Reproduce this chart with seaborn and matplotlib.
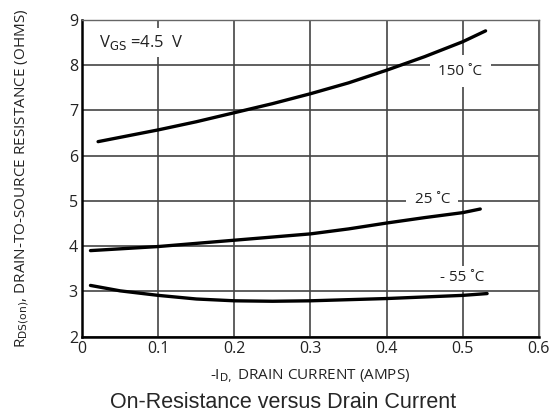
import matplotlib
matplotlib.use('Agg')
import matplotlib.pyplot as plt
import seaborn as sns
import pandas as pd

# drain current (A) and on-resistance (ohms)
i_150 = [0.021, 0.1, 0.15, 0.2, 0.25, 0.3, 0.35, 0.4, 0.45, 0.5, 0.530]
r_150 = [6.31, 6.57, 6.75, 6.95, 7.15, 7.37, 7.61, 7.89, 8.19, 8.52, 8.76]

i_25 = [0.011, 0.1, 0.2, 0.3, 0.35, 0.4, 0.45, 0.5, 0.523]
r_25 = [3.90, 3.99, 4.13, 4.27, 4.38, 4.51, 4.63, 4.74, 4.82]

i_m55 = [0.011, 0.05, 0.1, 0.15, 0.2, 0.25, 0.3, 0.4, 0.5, 0.532]
r_m55 = [3.13, 3.01, 2.91, 2.83, 2.79, 2.78, 2.79, 2.84, 2.91, 2.95]

x_ticks = [0, 0.1, 0.2, 0.3, 0.4, 0.5, 0.6]
x_labels = ['0', '0.1', '0.2', '0.3', '0.4', '0.5', '0.6']
y_ticks = [2, 3, 4, 5, 6, 7, 8, 9]

df = pd.concat([
    pd.DataFrame({'id': i_150, 'rds': r_150, 'temp': '150'}),
    pd.DataFrame({'id': i_25, 'rds': r_25, 'temp': '25'}),
    pd.DataFrame({'id': i_m55, 'rds': r_m55, 'temp': '-55'}),
])

sns.set_style('whitegrid', {'grid.color': '#444444', 'axes.edgecolor': '#555555'})
plt.rcParams['font.family'] = ['Open Sans', 'DejaVu Sans']

fig = plt.figure(figsize=(5.51, 4.17), dpi=100)
ax = fig.add_axes([0.149, 0.193, 0.829, 0.759])

for temp, sub in df.groupby('temp', sort=False):
    sns.lineplot(data=sub, x='id', y='rds', ax=ax, color='black', linewidth=2.4,
                 estimator=None, sort=True, legend=False, zorder=4)

ax.set_xlim(0, 0.6)
ax.set_ylim(2, 9)
ax.set_xticks(x_ticks)
ax.set_xticklabels(x_labels)
ax.set_yticks(y_ticks)
ax.tick_params(axis='both', length=0, labelsize=11.5, pad=3, colors='#222222')
ax.grid(True, color='#444444', linewidth=1.2)
ax.set_axisbelow(True)
for side in ['top', 'right']:
    ax.spines[side].set_color('#666666')
    ax.spines[side].set_linewidth(1.0)
for side in ['left', 'bottom']:
    ax.spines[side].set_color('black')
    ax.spines[side].set_linewidth(1.8)

ax.text(0.022, 8.51, r'V$_{\rm GS}$ =4.5  V', fontsize=12, va='center', ha='left', color='#222222',
        zorder=2, bbox=dict(boxstyle='square,pad=0.3', facecolor='white', edgecolor='none'))
ax.text(0.497, 7.87, '150 ˚C', fontsize=11, va='center', ha='center', color='#222222', zorder=2,
        bbox=dict(boxstyle='square,pad=0.55', facecolor='white', edgecolor='none'))
ax.text(0.460, 5.03, '25 ˚C', fontsize=11, va='center', ha='center', color='#222222', zorder=2,
        bbox=dict(boxstyle='square,pad=0.55', facecolor='white', edgecolor='none'))
ax.text(0.499, 3.30, '- 55 ˚C', fontsize=11, va='center', ha='center', color='#222222', zorder=2,
        bbox=dict(boxstyle='square,pad=0.3', facecolor='white', edgecolor='none'))

ax.set_xlabel(r'-I$_{\rm D,}$ DRAIN CURRENT (AMPS)', fontsize=11, color='#222222', labelpad=8)
ax.set_ylabel(r'R$_{\rm DS(on)}$, DRAIN-TO-SOURCE RESISTANCE (OHMS)', fontsize=11, color='#222222')
ax.yaxis.set_label_coords(-0.112, 0.5)

fig.text(0.513, 0.034, 'On-Resistance versus Drain Current', fontsize=15.5, ha='center', va='center',
         family=['Liberation Sans', 'DejaVu Sans'])

fig.savefig('out.png', dpi=100, facecolor='white')
